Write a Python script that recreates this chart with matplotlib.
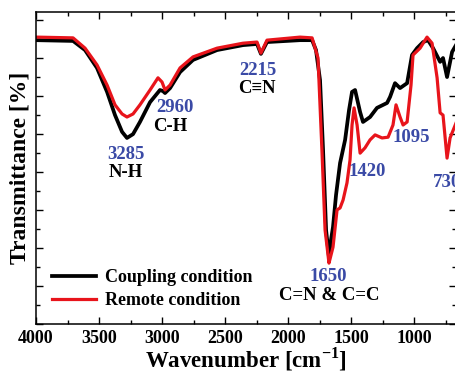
import matplotlib
matplotlib.use('Agg')
import matplotlib.pyplot as plt
from matplotlib.ticker import MultipleLocator

plt.rcParams['font.family'] = ['Liberation Serif', 'DejaVu Serif']
plt.rcParams['font.weight'] = 'bold'
plt.rcParams['axes.labelweight'] = 'bold'
plt.rcParams['mathtext.fontset'] = 'custom'
plt.rcParams['mathtext.rm'] = 'Liberation Serif:bold'
plt.rcParams['mathtext.bf'] = 'Liberation Serif:bold'

# spectra (wavenumber cm-1, transmittance a.u.)
wn_coupling = [4000, 3706, 3611, 3516, 3436, 3373, 3317, 3278, 3230, 3175, 3095,
               3016, 2992, 2976, 2936, 2857, 2754, 2563, 2357, 2246, 2215, 2167,
               1905, 1809, 1778, 1746, 1722, 1698, 1675, 1659, 1643, 1619, 1587,
               1547, 1516, 1492, 1468, 1428, 1405, 1349, 1294, 1214, 1190, 1151,
               1111, 1055, 1016, 976, 928, 889, 849, 793, 770, 738, 698, 667]
tr_coupling = [74.6, 74.4, 72.0, 67.3, 61.0, 54.9, 50.5, 48.9, 49.9, 53.1, 58.3,
               61.5, 61.2, 60.7, 62.0, 66.2, 69.4, 72.0, 73.3, 73.6, 71.0, 74.1,
               74.6, 74.6, 72.0, 64.1, 45.7, 24.7, 17.6, 22.1, 25.5, 33.9, 42.3,
               48.4, 56.2, 61.0, 61.5, 55.7, 53.1, 54.4, 56.8, 58.1, 59.7, 63.3,
               62.0, 63.3, 70.7, 72.5, 74.1, 74.6, 72.5, 68.9, 69.9, 64.9, 71.5, 73.3]

wn_remote = [4000, 3706, 3611, 3516, 3436, 3373, 3317, 3278, 3230, 3175, 3095,
             3032, 3000, 2976, 2936, 2857, 2754, 2563, 2357, 2246, 2215, 2167,
             1905, 1809, 1762, 1730, 1706, 1675, 1659, 1643, 1611, 1587, 1563,
             1532, 1508, 1492, 1476, 1452, 1428, 1389, 1349, 1309, 1254, 1206,
             1167, 1143, 1111, 1087, 1055, 1024, 1008, 952, 897, 857, 817, 793,
             770, 738, 714, 667]
tr_remote = [75.4, 75.2, 72.5, 68.1, 62.8, 57.6, 55.2, 54.4, 55.2, 57.6, 61.5,
             64.7, 63.6, 61.5, 62.8, 67.3, 70.2, 72.5, 73.8, 74.1, 71.2, 74.6,
             75.4, 75.2, 69.9, 45.0, 24.7, 16.0, 18.1, 20.2, 30.0, 30.5, 32.6,
             37.1, 43.1, 52.3, 56.8, 52.3, 44.9, 46.3, 48.4, 49.7, 48.9, 49.1,
             52.3, 57.6, 54.4, 52.3, 53.1, 62.8, 70.7, 72.5, 75.4, 73.8, 64.7,
             55.5, 54.9, 43.6, 48.9, 52.8]

# label texts and where they sit (wavenumber, transmittance)
peak_txt = ['3285', '2960', '2215', '1650', '1420', '1095', '730']
peak_x = [3290, 2900, 2238, 1682, 1369, 1025, 735]
peak_y = [44.5, 56.8, 66.6, 12.4, 40.2, 49.1, 37.3]
bond_txt = ['N-H', 'C-H', 'C\u2261N', 'C=N & C=C']
bond_x = [3285, 2935, 2246, 1674]
bond_y = [39.7, 51.8, 61.8, 7.6]

blue = '#3a4aa6'

fig = plt.figure(figsize=(4.55, 3.73), dpi=100)
ax = fig.add_axes([36/455, 49/373, 420/455, 312/373])

ax.plot(wn_coupling, tr_coupling, color='black', lw=2.7, label='Coupling condition')
ax.plot(wn_remote, tr_remote, color='#e8141b', lw=2.3, label='Remote condition')

ax.set_xlim(4000, 667)
ax.set_ylim(0, 82)
ax.xaxis.set_major_locator(MultipleLocator(500))
ax.xaxis.set_minor_locator(MultipleLocator(250))
ax.yaxis.set_major_locator(MultipleLocator(10))
ax.yaxis.set_minor_locator(MultipleLocator(5))
ax.tick_params(which='both', direction='in', top=True, right=True, width=1)
ax.tick_params(which='major', length=5, labelsize=13, pad=4)
ax.tick_params(which='minor', length=3)
ax.set_yticklabels([])
for s in ax.spines.values():
    s.set_linewidth(1.1)

ax.set_xlabel('Wavenumber [cm$^{-1}$]', fontsize=16.5, labelpad=-0.5)
ax.set_ylabel('Transmittance [%]', fontsize=17, labelpad=0)

for x, y, t in zip(peak_x, peak_y, peak_txt):
    ax.text(x, y, t, color=blue, fontsize=13.5, ha='center', va='center')
for x, y, t in zip(bond_x, bond_y, bond_txt):
    ax.text(x, y, t, fontsize=13.5, ha='center', va='center')

ax.legend(loc='lower left', bbox_to_anchor=(0.0, -0.005), frameon=False,
          fontsize=13, handlelength=2.4, handletextpad=0.5, labelspacing=0.35)

fig.savefig('out.png', dpi=100)
